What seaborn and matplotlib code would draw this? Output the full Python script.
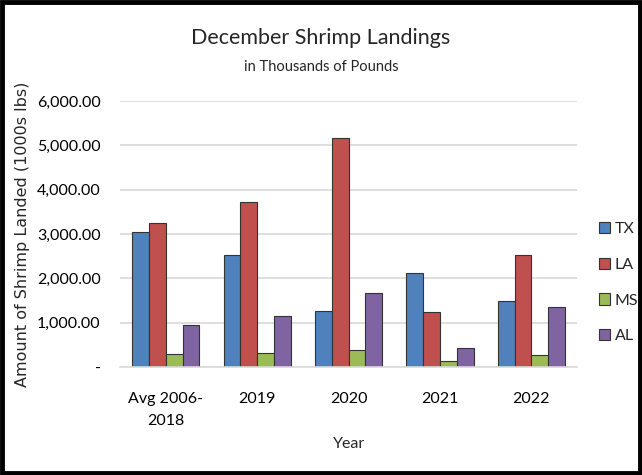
import matplotlib
matplotlib.use("Agg")
import matplotlib.pyplot as plt
import seaborn as sns
import pandas as pd
from matplotlib.patches import Rectangle, Patch
from matplotlib.ticker import FuncFormatter

categories = ["Avg 2006-\n2018", "2019", "2020", "2021", "2022"]
states = ["TX", "LA", "MS", "AL"]
tx = [3035, 2530, 1270, 2120, 1490]
la = [3245, 3730, 5170, 1250, 2520]
ms = [290, 310, 380, 140, 260]
al = [940, 1160, 1670, 420, 1360]
colors = ["#4F81BD", "#C0504D", "#9BBB59", "#8064A2"]

rows = []
for st, vals in zip(states, [tx, la, ms, al]):
    for c, v in zip(categories, vals):
        rows.append({"Year": c, "State": st, "Value": v})
df = pd.DataFrame(rows)

sns.set_theme(style="white")
plt.rcParams["font.family"] = ["Lato", "DejaVu Sans"]

fig = plt.figure(figsize=(6.42, 4.75), dpi=100)
ax = fig.add_axes([0.187, 0.2274, 0.712, 0.560])

sns.barplot(data=df, x="Year", y="Value", hue="State", hue_order=states,
            palette=colors, width=0.735, edgecolor="#333333", linewidth=0.8,
            saturation=1, ax=ax, legend=False)

ax.set_ylim(0, 6000)
ax.set_xlim(-0.5, 4.5)
ax.set_yticks([0, 1000, 2000, 3000, 4000, 5000, 6000])
ax.yaxis.set_major_formatter(FuncFormatter(lambda v, p: "-" if v == 0 else f"{v:,.2f}"))
ax.grid(axis="y", color="#d9d9d9", linewidth=1.2)
ax.set_axisbelow(True)
for s in ["top", "right", "left"]:
    ax.spines[s].set_visible(False)
ax.spines["bottom"].set_color("#d9d9d9")
ax.spines["bottom"].set_linewidth(1.2)
ax.tick_params(axis="both", length=0, labelsize=11.5, colors="black", pad=14)
ax.tick_params(axis="x", pad=18)
ax.set_xticks(range(len(categories)))
ax.set_xticklabels(categories, linespacing=1.7, fontsize=11.5)
ax.set_xlabel("Year", fontsize=11.5, labelpad=7)
ax.set_ylabel("Amount of Shrimp Landed (1000s lbs)", fontsize=11.5,
              family=["DejaVu Sans"], labelpad=5)

fig.text(0.5, 0.92, "December Shrimp Landings", ha="center", va="center", fontsize=15.5)
fig.text(0.5, 0.858, "in Thousands of Pounds", ha="center", va="center", fontsize=10.5)

handles = [Patch(facecolor=c, edgecolor="#333333", linewidth=0.8, label=s) for c, s in zip(colors, states)]
fig.legend(handles=handles, loc="center left", bbox_to_anchor=(0.91, 0.405),
           frameon=False, fontsize=11.5, handlelength=0.7, handleheight=0.7,
           handletextpad=0.3, labelspacing=1.35)

fig.add_artist(Rectangle((0.003, 0.004), 0.994, 0.992, transform=fig.transFigure,
                         fill=False, edgecolor="black", linewidth=3.5))

fig.savefig("out.png", dpi=100)
